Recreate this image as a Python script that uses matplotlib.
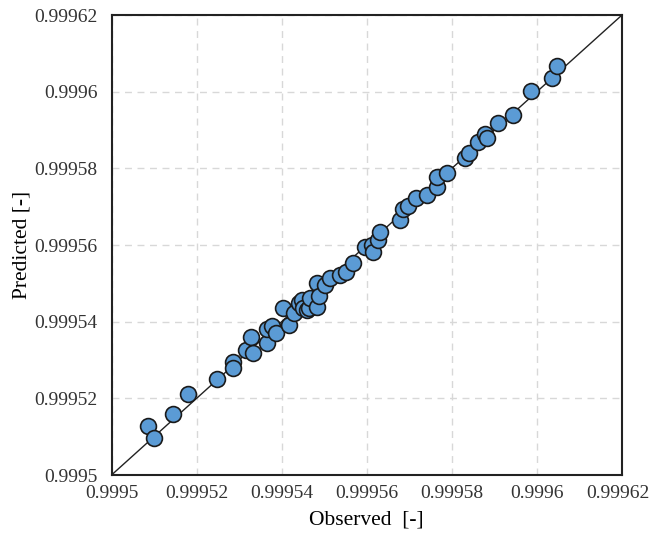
import numpy as np
import matplotlib
matplotlib.use("Agg")
import matplotlib.pyplot as plt
import matplotlib.transforms as mtransforms
from matplotlib.ticker import FuncFormatter

plt.rcParams['font.family'] = ['Liberation Serif', 'DejaVu Serif']

base = 0.9995
# offsets from 0.9995 in units of 1e-5
observed_off = [0.86, 1.00, 1.45, 1.80, 2.48, 2.86, 2.86, 3.16, 3.28, 3.33,
                3.66, 3.66, 3.77, 3.87, 4.03, 4.17, 4.29, 4.41, 4.48, 4.50,
                4.60, 4.64, 4.67, 4.83, 4.83, 4.88, 5.02, 5.14, 5.37, 5.51,
                5.68, 5.96, 6.12, 6.15, 6.27, 6.31, 6.78, 6.85, 6.97, 7.16,
                7.42, 7.65, 7.65, 7.89, 8.31, 8.40, 8.62, 8.78, 8.83, 9.09,
                9.44, 9.86, 10.36, 10.47]
predicted_off = [1.28, 0.97, 1.59, 2.11, 2.51, 2.95, 2.79, 3.26, 3.60, 3.18,
                 3.44, 3.81, 3.89, 3.71, 4.36, 3.91, 4.23, 4.49, 4.57, 4.36,
                 4.31, 4.36, 4.62, 5.01, 4.38, 4.67, 4.96, 5.14, 5.22, 5.30,
                 5.53, 5.95, 6.00, 5.82, 6.13, 6.34, 6.65, 6.94, 7.02, 7.23,
                 7.31, 7.51, 7.78, 7.88, 8.27, 8.40, 8.69, 8.90, 8.79, 9.18,
                 9.39, 10.02, 10.36, 10.67]

observed = base + np.array(observed_off) * 1e-5
predicted = base + np.array(predicted_off) * 1e-5

lims = [0.9995, 0.99962]
ticks = [0.9995, 0.99952, 0.99954, 0.99956, 0.99958, 0.9996, 0.99962]

fig = plt.figure(figsize=(6.51, 5.36), dpi=100)
ax = fig.add_axes([0.1713, 0.1138, 0.7842, 0.8582])

# 1:1 line
ax.plot(lims, lims, color='#222222', lw=1.0, zorder=2)
ax.scatter(observed, predicted, s=130, facecolor='#5B9BD5', edgecolor='#1a1a1a',
           linewidths=1.2, zorder=3)

ax.set_xlim(lims)
ax.set_ylim(lims)
ax.set_xticks(ticks)
ax.set_yticks(ticks)
fmt = FuncFormatter(lambda v, p: f"{v:.5f}".rstrip('0'))
ax.xaxis.set_major_formatter(fmt)
ax.yaxis.set_major_formatter(fmt)
ax.tick_params(length=0, labelsize=14, colors='#333333')
ax.tick_params(axis='y', pad=10)
ax.tick_params(axis='x', pad=7)

ax.grid(True, ls=(0, (5, 4)), color='#d8d8d8', lw=1.0)
ax.set_axisbelow(True)
for s in ax.spines.values():
    s.set_linewidth(1.5)
    s.set_color('#222222')

ax.set_xlabel('Observed  [-]', fontsize=15.5, labelpad=6)
ax.set_ylabel('Predicted [-]', fontsize=15.5, labelpad=2)

# keep the last x tick label inside the figure
last = ax.get_xticklabels()[-1]
last.set_transform(last.get_transform() +
                   mtransforms.ScaledTranslation(-4 / 100, 0, fig.dpi_scale_trans))

fig.savefig('out.png', dpi=100)
